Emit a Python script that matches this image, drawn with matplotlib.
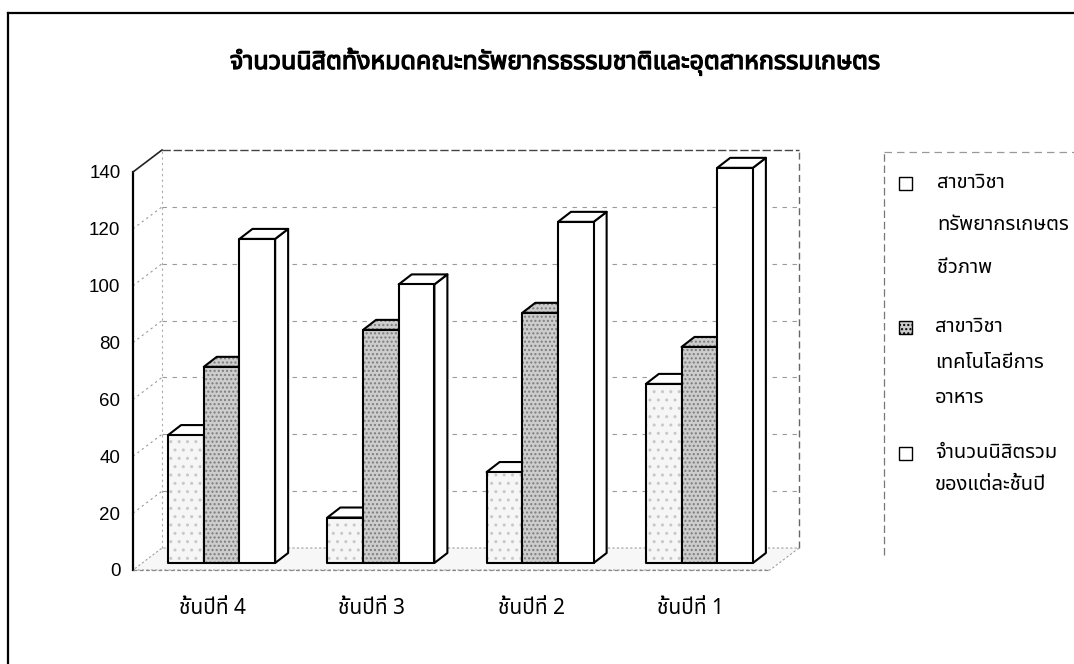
import numpy as np
import matplotlib
matplotlib.use("Agg")
import matplotlib.pyplot as plt
from matplotlib import font_manager
import matplotlib.patheffects as pe
from matplotlib.patches import Polygon, Rectangle
from matplotlib.lines import Line2D

# datas
years = ["ชั้นปีที่ 4", "ชั้นปีที่ 3", "ชั้นปีที่ 2", "ชั้นปีที่ 1"]
bio_resources = [45, 16, 32, 63]
food_tech = [69, 82, 88, 76]
total_students = [114, 98, 120, 139]
series_names = ["สาขาวิชา\nทรัพยากรเกษตร\nชีวภาพ",
                "สาขาวิชา\nเทคโนโลยีการ\nอาหาร",
                "จำนวนนิสิตรวม\nของแต่ละชั้นปี"]
title = "จำนวนนิสิตทั้งหมดคณะทรัพยากรธรรมชาติและอุตสาหกรรมเกษตร"
y_ticks = [0, 20, 40, 60, 80, 100, 120, 140]


def find_thai_font():
    # look for any installed font that has Thai glyphs
    try:
        from fontTools.ttLib import TTFont
    except ImportError:
        return None
    found = []
    for f in font_manager.fontManager.ttflist:
        try:
            tt = TTFont(f.fname, fontNumber=0, lazy=True)
            cmap = tt.getBestCmap()
            if cmap and 0x0E08 in cmap and 0x0E49 in cmap:
                found.append(f.name)
        except Exception:
            pass
    if not found:
        return None
    for pref in ["Noto Sans Thai", "Noto Serif Thai", "Loma", "Garuda", "Norasi", "Sawasdee"]:
        if pref in found:
            return pref
    return found[0]


thai = find_thai_font()
fam = ([thai] if thai else []) + ["DejaVu Sans"]
plt.rcParams["font.family"] = fam

W, H = 1074, 664
fig = plt.figure(figsize=(W / 100, H / 100), dpi=100)

# front plane of the 3d box in pixels
left_px, right_px, bot_px, top_px = 133, 770, 570, 172
ax = fig.add_axes([left_px / W, (H - bot_px) / H, (right_px - left_px) / W, (bot_px - top_px) / H])
ax.set_xlim(-0.5, 3.5)
ax.set_ylim(0, 140)
for s in ax.spines.values():
    s.set_visible(False)

ux = (right_px - left_px) / 4.0
uy = (bot_px - top_px) / 140.0
wx, wy = 29 / ux, 22 / uy      # wall depth
bx, by = 9 / ux, 7 / uy        # where bars stand
dx, dy = 13 / ux, 10 / uy      # bar depth
x0, x1 = -0.5, 3.5

# walls and floor
ax.add_patch(Polygon([(x0, 0), (x0, 140), (x0 + wx, 140 + wy), (x0 + wx, wy)],
                     closed=True, fc="white", ec="none", clip_on=False, zorder=0))
ax.add_patch(Polygon([(x0 + wx, wy), (x1 + wx, wy), (x1 + wx, 140 + wy), (x0 + wx, 140 + wy)],
                     closed=True, fc="white", ec="none", clip_on=False, zorder=0))
ax.add_patch(Polygon([(x0, 0), (x1, 0), (x1 + wx, wy), (x0 + wx, wy)],
                     closed=True, fc="#f7f7f7", ec="#a0a0a0", lw=0.8, ls=(0, (2, 2)),
                     clip_on=False, zorder=0))

for v in y_ticks[1:-1]:
    ax.plot([x0 + wx, x1 + wx], [v + wy, v + wy], color="#9a9a9a", lw=0.8,
            ls=(0, (4, 5)), clip_on=False, zorder=1)
    ax.plot([x0, x0 + wx], [v, v + wy], color="#9a9a9a", lw=0.8,
            ls=(0, (2, 3)), clip_on=False, zorder=1)
ax.plot([x0 + wx, x1 + wx], [140 + wy, 140 + wy], color="#444444", lw=1.0,
        ls=(0, (6, 2)), clip_on=False, zorder=1)
ax.plot([x1 + wx, x1 + wx], [wy, 140 + wy], color="#666666", lw=1.0,
        ls=(0, (5, 3)), clip_on=False, zorder=1)
ax.plot([x0 + wx, x0 + wx], [wy, 140 + wy], color="#aaaaaa", lw=0.8,
        ls=(0, (2, 3)), clip_on=False, zorder=1)
ax.plot([x0, x0], [0, 140], color="black", lw=1.6, clip_on=False, zorder=2)
ax.plot([x0, x0 + wx], [140, 140 + wy], color="#222222", lw=1.2, clip_on=False, zorder=2)
ax.plot([x0, x1], [0, 0], color="#888888", lw=0.9, ls=(0, (3, 2)), clip_on=False, zorder=2)

# bar styles: (fill, hatch, hatch colour)
styles = [("#f6f6f6", "..", "#c8c8c8"),
          ("#cdcdcd", "....", "#7d7d7d"),
          ("white", None, None)]
bw = 0.224
series = [bio_resources, food_tech, total_students]


def face(pts, fc, hatch, hc, z):
    ax.add_patch(Polygon(pts, closed=True, fc=fc, ec="none", clip_on=False, zorder=z))
    if hatch:
        ax.add_patch(Polygon(pts, closed=True, fill=False, ec=hc, lw=0, hatch=hatch,
                             clip_on=False, zorder=z))
    ax.add_patch(Polygon(pts, closed=True, fill=False, ec="black", lw=1.5,
                         joinstyle="round", clip_on=False, zorder=z))


for i in range(len(years)):
    for j, vals in enumerate(series):
        v = vals[i]
        fc, hatch, hc = styles[j]
        xl = i + (j - 1.5) * bw + bx
        xr = xl + bw
        z = 3 + i * 3 + j * 0.3
        face([(xr, by), (xr + dx, by + dy), (xr + dx, v + by + dy), (xr, v + by)], fc, hatch, hc, z)
        face([(xl, v + by), (xr, v + by), (xr + dx, v + by + dy), (xl + dx, v + by + dy)],
             "white" if j != 1 else fc, hatch if j == 1 else None, hc, z + 0.1)
        face([(xl, by), (xr, by), (xr, v + by), (xl, v + by)], fc, hatch, hc, z + 0.2)

ax.set_yticks(y_ticks)
ax.set_yticklabels([str(t) for t in y_ticks], fontsize=13.5, family=["Liberation Sans", "DejaVu Sans"])
ax.set_xticks(range(len(years)))
ax.set_xticklabels(years, fontsize=15)
ax.tick_params(axis="y", length=0, pad=9)
ax.tick_params(axis="x", length=0, pad=20)

# title, thickened a bit since the thai font has no bold
fig.text(555 / W, 1 - 62 / H, title, ha="center", va="center", fontsize=18,
         path_effects=[pe.withStroke(linewidth=0.9, foreground="black")])

# outer frame (left and top only, rest is cut off)
fig.add_artist(Line2D([8 / W, 8 / W], [0, 1 - 13 / H], color="black", lw=1.6))
fig.add_artist(Line2D([8 / W, 1], [1 - 13 / H, 1 - 13 / H], color="black", lw=1.6))

# legend box edges
fig.add_artist(Line2D([884 / W, 884 / W], [1 - 555 / H, 1 - 152 / H], color="#777777",
                      lw=0.9, ls=(0, (6, 3))))
fig.add_artist(Line2D([884 / W, 1], [1 - 152 / H, 1 - 152 / H], color="#999999",
                      lw=0.9, ls=(0, (6, 4))))

line_y = [[183, 225, 268], [327, 363, 398], [453, 485]]
text_x = [937, 935, 935]
for j, name in enumerate(series_names):
    fc, hatch, hc = styles[j]
    sy = line_y[j][0]
    r = Rectangle((899 / W, 1 - (sy + 7) / H), 13 / W, 13 / H, transform=fig.transFigure,
                  fc=fc if j == 1 else "white", ec="black", lw=1.0,
                  hatch=hatch if j == 1 else None)
    fig.add_artist(r)
    for k, ln in enumerate(name.split("\n")):
        fig.text(text_x[j] / W, 1 - line_y[j][k] / H, ln, ha="left", va="center", fontsize=14.5)

fig.savefig("out.png", dpi=100)
